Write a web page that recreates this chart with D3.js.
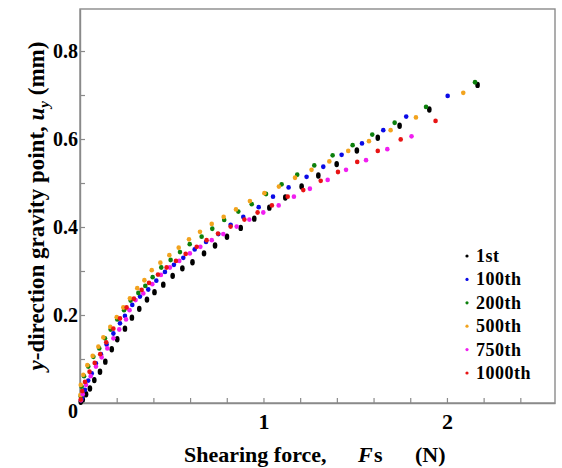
<!DOCTYPE html>
<html>
<head>
<meta charset="utf-8">
<script src="https://cdn.jsdelivr.net/npm/d3@7"></script>
<style>
  body { margin: 0; background: #fff; }
  text { font-family: "Liberation Serif", "Times New Roman", serif; font-weight: bold; }
</style>
</head>
<body>
<div id="chart"></div>
<script>
// data: [Fs (N), u_y (mm)]
var s1st = [[0.004,0.003],[0.015,0.008],[0.033,0.020],[0.054,0.033],[0.078,0.052],[0.109,0.071],[0.138,0.094],[0.173,0.122],[0.203,0.145],[0.245,0.169],[0.283,0.194],[0.323,0.214],[0.365,0.235],[0.406,0.252],[0.454,0.269],[0.505,0.289],[0.558,0.306],[0.613,0.320],[0.676,0.340],[0.736,0.358],[0.801,0.378],[0.876,0.398],[0.950,0.419],[1.032,0.444],[1.119,0.467],[1.208,0.492],[1.299,0.517],[1.399,0.543],[1.509,0.574],[1.623,0.603],[1.742,0.630],[1.904,0.667],[2.167,0.723]];
var s100th = [[0.011,0.011],[0.027,0.030],[0.045,0.051],[0.064,0.067],[0.087,0.090],[0.114,0.111],[0.145,0.133],[0.182,0.158],[0.218,0.181],[0.245,0.198],[0.285,0.223],[0.327,0.242],[0.372,0.258],[0.416,0.278],[0.463,0.298],[0.512,0.314],[0.563,0.330],[0.625,0.349],[0.687,0.366],[0.754,0.384],[0.821,0.405],[0.890,0.423],[0.974,0.445],[1.052,0.469],[1.137,0.490],[1.235,0.514],[1.326,0.537],[1.426,0.564],[1.537,0.590],[1.653,0.620],[1.778,0.651],[2.004,0.698]];
var s200th = [[0.004,0.015],[0.009,0.037],[0.022,0.061],[0.045,0.083],[0.073,0.105],[0.105,0.124],[0.136,0.147],[0.167,0.167],[0.203,0.190],[0.240,0.211],[0.276,0.233],[0.318,0.250],[0.356,0.266],[0.396,0.286],[0.443,0.308],[0.494,0.325],[0.545,0.343],[0.598,0.361],[0.663,0.378],[0.721,0.396],[0.786,0.416],[0.863,0.435],[0.936,0.452],[1.014,0.475],[1.099,0.497],[1.184,0.519],[1.277,0.540],[1.377,0.563],[1.486,0.586],[1.593,0.610],[1.715,0.637],[1.886,0.673],[2.153,0.729]];
var s500th = [[0.002,0.018],[0.004,0.041],[0.018,0.064],[0.040,0.086],[0.069,0.107],[0.100,0.128],[0.127,0.149],[0.165,0.173],[0.200,0.195],[0.236,0.217],[0.272,0.238],[0.312,0.261],[0.351,0.279],[0.391,0.302],[0.438,0.319],[0.487,0.336],[0.538,0.353],[0.594,0.372],[0.654,0.389],[0.718,0.407],[0.783,0.423],[0.850,0.440],[0.926,0.459],[1.005,0.477],[1.084,0.492],[1.172,0.512],[1.262,0.530],[1.359,0.549],[1.462,0.573],[1.575,0.595],[1.693,0.620],[1.831,0.649],[2.089,0.705]];
var s750th = [[0.005,0.006],[0.015,0.020],[0.033,0.041],[0.058,0.061],[0.087,0.083],[0.118,0.104],[0.149,0.124],[0.182,0.147],[0.214,0.167],[0.251,0.190],[0.270,0.211],[0.303,0.234],[0.345,0.249],[0.394,0.270],[0.441,0.291],[0.490,0.308],[0.541,0.323],[0.599,0.340],[0.656,0.355],[0.718,0.370],[0.781,0.384],[0.854,0.401],[0.923,0.417],[0.999,0.433],[1.083,0.449],[1.166,0.469],[1.253,0.487],[1.350,0.507],[1.450,0.530],[1.559,0.552],[1.675,0.577],[1.807,0.606]];
var s1000th = [[0.004,0.008],[0.012,0.027],[0.027,0.048],[0.052,0.071],[0.080,0.091],[0.110,0.111],[0.143,0.138],[0.182,0.169],[0.218,0.192],[0.254,0.217],[0.294,0.237],[0.336,0.257],[0.376,0.273],[0.425,0.292],[0.472,0.308],[0.523,0.323],[0.576,0.339],[0.636,0.355],[0.690,0.370],[0.752,0.385],[0.821,0.401],[0.896,0.417],[0.968,0.433],[1.046,0.449],[1.132,0.469],[1.217,0.484],[1.312,0.505],[1.406,0.525],[1.511,0.548],[1.623,0.573],[1.748,0.599],[1.938,0.641]];

var seriesNames = ["1st", "100th", "200th", "500th", "750th", "1000th"];
var seriesData = [s1st, s100th, s200th, s500th, s750th, s1000th];
var seriesColors = ["#000000", "#0a0ae6", "#0c800c", "#f2a31e", "#f01ef0", "#e81414"];

var xTicks = [0.2, 0.4, 0.6, 0.8, 1, 1.2, 1.4, 1.6, 1.8, 2, 2.2, 2.4];
var xTickLabels = {1: "1", 2: "2"};
var yTicks = [0.1, 0.2, 0.3, 0.4, 0.5, 0.6, 0.7, 0.8];
var yTickLabels = {0.2: "0.2", 0.4: "0.4", 0.6: "0.6", 0.8: "0.8"};

var width = 562, height = 468;
// plot box (don't call these top/left, window.top is taken)
var boxL = 80, boxR = 555, boxT = 9, boxB = 403;
var frameColor = "#8a8a8a";

var svg = d3.select("#chart").append("svg")
  .attr("width", width)
  .attr("height", height);

var x = d3.scaleLinear().domain([0, 2.589]).range([boxL, boxR]);
var y = d3.scaleLinear().domain([0, 0.8955]).range([boxB, boxT]);

// frame
svg.append("rect")
  .attr("x", boxL).attr("y", boxT)
  .attr("width", boxR - boxL).attr("height", boxB - boxT)
  .attr("fill", "none")
  .attr("stroke", frameColor)
  .attr("stroke-width", 1.4);

// axes, ticks point inward
var xAxis = svg.append("g")
  .attr("transform", "translate(0," + boxB + ")")
  .call(d3.axisBottom(x).tickValues(xTicks).tickSizeInner(-5).tickSizeOuter(0).tickPadding(10)
    .tickFormat(function(d) { return xTickLabels[Math.round(d * 10) / 10] || ""; }));

var yAxis = svg.append("g")
  .attr("transform", "translate(" + boxL + ",0)")
  .call(d3.axisLeft(y).tickValues(yTicks).tickSizeInner(-5).tickSizeOuter(0).tickPadding(2)
    .tickFormat(function(d) { return yTickLabels[Math.round(d * 10) / 10] || ""; }));

[xAxis, yAxis].forEach(function(g) {
  g.select(".domain").attr("stroke", frameColor).attr("stroke-width", 1.4);
  g.selectAll(".tick line").attr("stroke", frameColor).attr("stroke-width", 1.2);
  g.selectAll(".tick text")
    .attr("fill", "#000")
    .style("font-family", "'Liberation Serif', serif")
    .style("font-weight", "bold")
    .style("font-size", "20px");
});
xAxis.selectAll(".tick text").style("font-size", "22px");

// the shared zero in the corner
svg.append("text")
  .attr("x", x(0) - 2).attr("y", 418)
  .attr("text-anchor", "end")
  .style("font-size", "20px")
  .text("0");

// points
seriesData.forEach(function(data, i) {
  svg.append("g")
    .selectAll("ellipse")
    .data(data)
    .enter().append("ellipse")
    .attr("cx", function(d) { return x(d[0]); })
    .attr("cy", function(d) { return y(d[1]); })
    .attr("rx", 2.3)
    .attr("ry", i == 0 ? 3.2 : 2.4)
    .attr("fill", seriesColors[i]);
});

// legend
var legend = svg.append("g");
seriesNames.forEach(function(name, i) {
  var ly = 256 + i * 23.4;
  legend.append("circle")
    .attr("cx", 467).attr("cy", ly)
    .attr("r", 1.6)
    .attr("fill", seriesColors[i]);
  legend.append("text")
    .attr("x", 476).attr("y", ly + 6)
    .style("font-size", "18px")
    .style("letter-spacing", "0.5px")
    .text(name);
});

// x title
var xt = svg.append("text").attr("y", 462).style("font-size", "22px");
xt.append("tspan").attr("x", 184).text("Shearing force,");
xt.append("tspan").attr("x", 358).style("font-style", "italic").text("F");
xt.append("tspan").attr("x", 374).text("s");
xt.append("tspan").attr("x", 415).text("(N)");

// y title
var yt = svg.append("text")
  .attr("transform", "translate(44,206) rotate(-90)")
  .attr("text-anchor", "middle")
  .style("font-size", "23px");
yt.append("tspan").style("font-style", "italic").text("y");
yt.append("tspan").text("-direction gravity point, ");
yt.append("tspan").style("font-style", "italic").text("u");
yt.append("tspan").style("font-style", "italic").style("font-size", "15px").attr("dy", 5).text("y");
yt.append("tspan").attr("dy", -5).text(" (mm)");
</script>
</body>
</html>
